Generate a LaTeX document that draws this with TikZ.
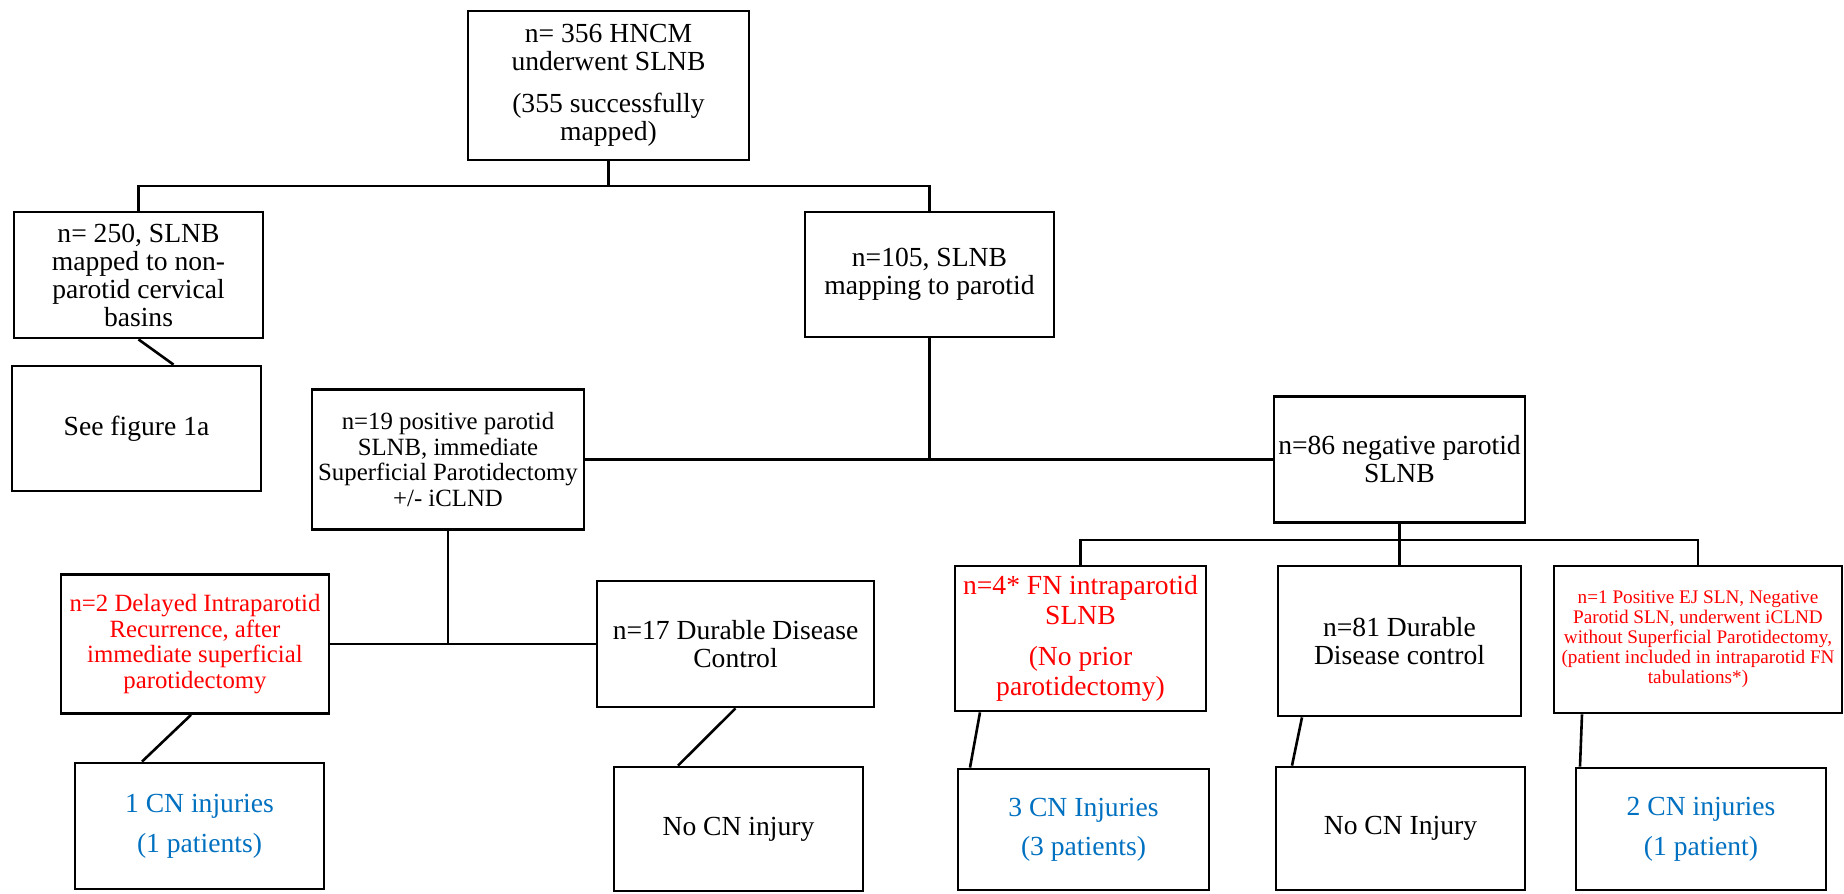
\documentclass[tikz,border=0pt]{standalone}
\usepackage{fontspec}
\setmainfont{Liberation Serif}
\usetikzlibrary{calc,positioning}
\definecolor{cnblue}{RGB}{0,112,192}
\tikzset{%
	process/.style  = {draw, rectangle, line width=1.4pt, align=center, inner sep=1pt, font=\fontsize{13.8}{14}\selectfont},
	tight/.style    = {font=\fontsize{12.4}{12.8}\selectfont},
	tiny/.style     = {font=\fontsize{9.6}{10}\selectfont},
	redtext/.style  = {text=red},
	bluetext/.style = {text=cnblue},
	link/.style     = {line width=1.3pt},
}

\begin{document}
\begin{tikzpicture}[x=0.5pt,y=-0.5pt]
	\useasboundingbox (0,0) rectangle (1844,894);
	% first levels
	\node[process, minimum width=140.5pt, minimum height=74.5pt] (top) at (608.5,85.5) {n= 356 HNCM\\underwent SLNB\\[7pt](355 successfully\\mapped)};
	\node[process, minimum width=124.5pt, minimum height=63pt] (n250) at (138.5,275) {n= 250, SLNB\\mapped to non-\\parotid cervical\\basins};
	\node[process, minimum width=124.5pt, minimum height=62.5pt] (n105) at (929.5,274.5) {n=105, SLNB\\mapping to parotid};
	\node[process, minimum width=124.5pt, minimum height=62.5pt] (fig1a) at (136.5,428.5) {See figure 1a};
	\node[process, tight, minimum width=136pt, minimum height=70pt] (n19) at (448,459.5) {n=19 positive parotid\\SLNB, immediate\\Superficial Parotidectomy\\+/- iCLND};
	\node[process, minimum width=125.5pt, minimum height=63pt] (n86) at (1399.5,459.5) {n=86 negative parotid\\SLNB};
	% left branch
	\node[process, tight, redtext, minimum width=134pt, minimum height=69.5pt] (n2) at (195,644) {n=2 Delayed Intraparotid\\Recurrence, after\\immediate superficial\\parotidectomy};
	\node[process, minimum width=138.5pt, minimum height=63pt] (n17) at (735.5,644) {n=17 Durable Disease\\Control};
	\node[process, bluetext, minimum width=124.5pt, minimum height=63pt] (cn1) at (199.5,826) {1 CN injuries\\[6pt](1 patients)};
	\node[process, minimum width=124.5pt, minimum height=62pt] (nocna) at (738.5,829) {No CN injury};
	% right branch
	\node[process, redtext, font=\fontsize{13.8}{15}\selectfont, minimum width=125.5pt, minimum height=72.5pt] (n4) at (1080.5,638.5) {n=4* FN intraparotid\\SLNB\\[5.5pt](No prior\\parotidectomy)};
	\node[process, minimum width=121.5pt, minimum height=75pt] (n81) at (1399.5,641) {n=81 Durable\\Disease control};
	\node[process, tiny, redtext, minimum width=144pt, minimum height=73.5pt] (n1) at (1698,639.5) {n=1 Positive EJ SLN, Negative\\Parotid SLN, underwent iCLND\\without Superficial Parotidectomy,\\(patient included in intraparotid FN\\tabulations*)};
	\node[process, bluetext, minimum width=125.5pt, minimum height=60.5pt] (cn3) at (1083.5,829.5) {3 CN Injuries\\[5.5pt](3 patients)};
	\node[process, minimum width=124.5pt, minimum height=61.5pt] (nocnb) at (1400.5,828.5) {No CN Injury};
	\node[process, bluetext, minimum width=125pt, minimum height=61pt] (cn2) at (1701,829) {2 CN injuries\\[6pt](1 patient)};

	\coordinate (j1) at (608.5,186);
	\draw[link] (top.south) -- (j1);
	\draw[link] (n250.north) |- (j1) -| (n105.north);
	\draw[link] (n250.south) -- ($(fig1a.north)+(37,0)$);
	\draw[link] (n19.east) -- (n86.west);
	\draw[link] (n105.south) -- (n105.south |- n86.west);
	\draw[link] (n2.east) -- (n17.west);
	\draw[link] (n19.south) -- (n19.south |- n17.west);
	\draw[link] ($(n2.south)+(-4,0)$) -- ($(cn1.north)+(-57.5,0)$);
	\draw[link] (n17.south) -- ($(nocna.north)+(-60.5,0)$);

	\coordinate (j2) at ($(n86.south)+(0,16)$);
	\draw[link] (n86.south) -- (j2);
	\draw[link] (n4.north) |- (j2) -| (n1.north);
	\draw[link] (n81.north) -- (j2);
	\draw[link] ($(n4.south)+(-100.5,0)$) -- ($(cn3.north)+(-113.5,0)$);
	\draw[link] ($(n81.south)+(-97.5,0)$) -- ($(nocnb.north)+(-108.5,0)$);
	\draw[link] ($(n1.south)+(-116,0)$) -- ($(cn2.north)+(-121,0)$);
\end{tikzpicture}
\end{document}
